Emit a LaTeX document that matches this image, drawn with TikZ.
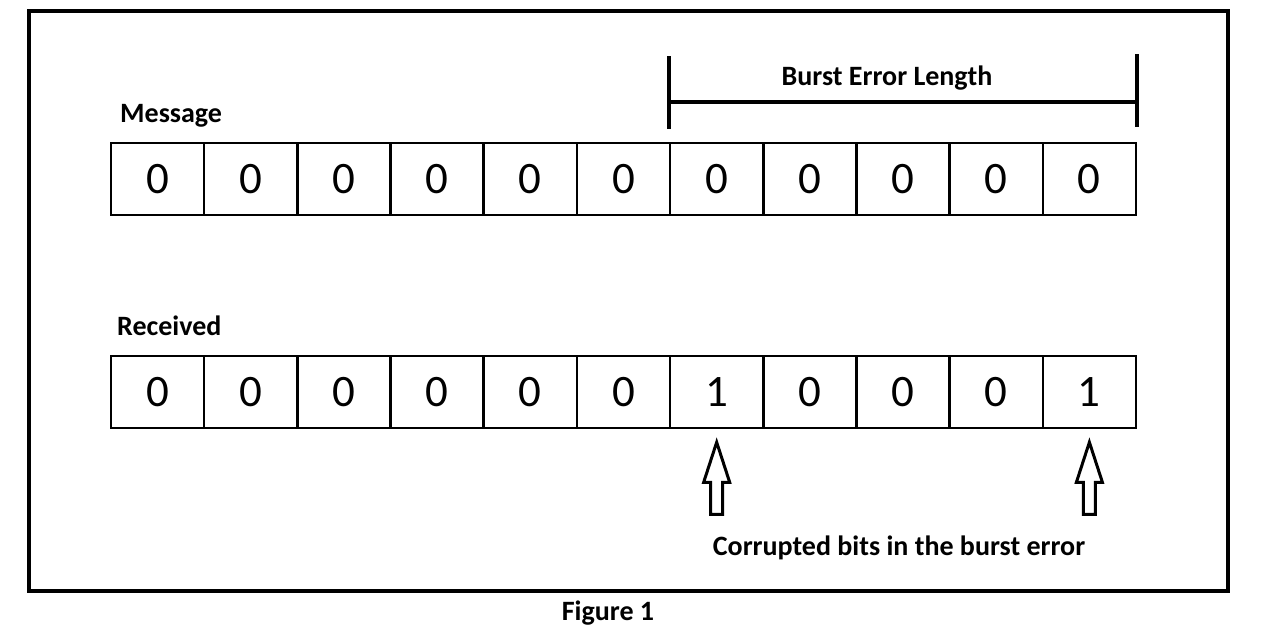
\documentclass[tikz,border=0pt]{standalone}
\usepackage{fontspec}
\setmainfont{Carlito}
\begin{document}
\begin{tikzpicture}[x=1pt,y=-1pt,
  cell/.style={draw,line width=2.5pt,minimum width=93.18pt,minimum height=72pt,inner sep=0pt,font=\fontsize{45}{48}\selectfont},
  lbl/.style={font=\fontsize{28}{32}\selectfont\bfseries,inner sep=0pt},
  bar/.style={line width=4pt},
  hollow/.style={draw,line width=3pt,line join=miter}]
\useasboundingbox[fill=white] (0,0) rectangle (1280,637);
\draw[line width=4pt] (29,11) rectangle (1228,591);
% message row
\foreach \i in {1,...,11}
  \node[cell] (m\i) at ({111+93.18*(\i-0.5)},179) {0};
% received row
\foreach \i/\v in {1/0,2/0,3/0,4/0,5/0,6/0,7/1,8/0,9/0,10/0,11/1}
  \node[cell] (r\i) at ({111+93.18*(\i-0.5)},392) {\v};
\node[lbl,anchor=west] (msg) at (120,116) {Message};
\node[lbl,anchor=west] (rec) at (117,326) {Received};
% burst bracket
\coordinate (bl) at (m7.north west);
\coordinate (br) at (m11.north east);
\draw[bar] ([yshift=13pt]bl) -- ([yshift=86pt]bl);
\draw[bar] ([yshift=15pt]br) -- ([yshift=88pt]br);
\draw[bar] ([yshift=40pt]bl) -- ([yshift=40pt]br);
\node[lbl] (burst) at (887,78) {Burst Error Length};
% hollow arrows
\foreach \c in {7,11}{
  \coordinate (a\c) at ([yshift=-13pt]r\c.south);
  \draw[hollow] (a\c) -- ++(13,40) -- ++(-7,0) -- ++(0,32) -- ++(-12,0) -- ++(0,-32) -- ++(-7,0) -- cycle;
}
\node[lbl] (corr) at (899,548) {Corrupted bits in the burst error};
\node[lbl] (fig) at (608,613) {Figure 1};
\end{tikzpicture}
\end{document}
